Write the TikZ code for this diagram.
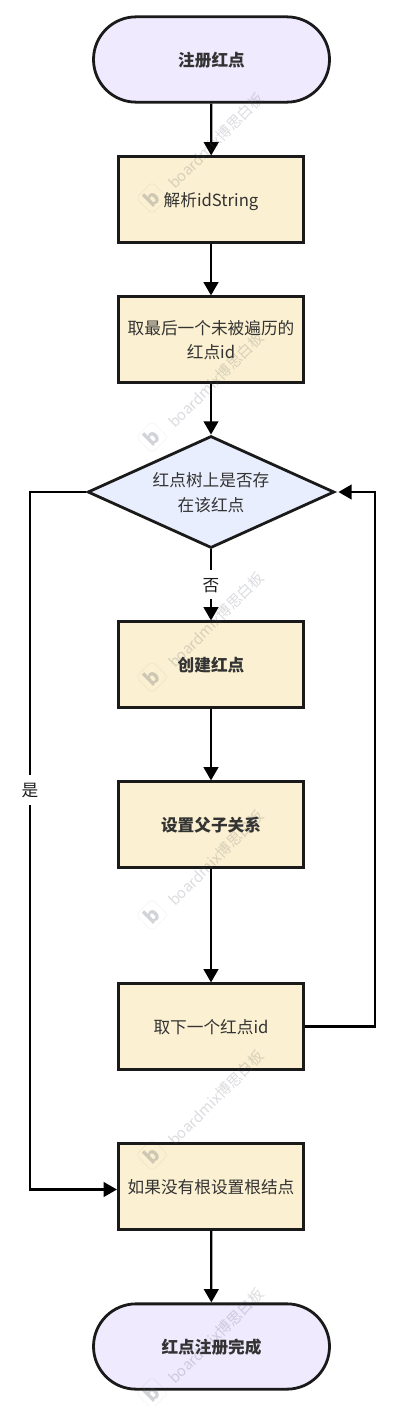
\documentclass[tikz,border=0pt]{standalone}
\usepackage{fontspec}
\setmainfont{Noto Sans CJK SC}
\usetikzlibrary{calc,shapes.geometric,arrows.meta}

\definecolor{inkdark}{HTML}{1A1A1A}
\definecolor{textdark}{HTML}{333333}
\definecolor{termfill}{HTML}{EFEAFD}
\definecolor{procfill}{HTML}{FBF0D1}
\definecolor{testfill}{HTML}{E8EEFD}
\definecolor{wmgrey}{HTML}{4A5060}

\tikzset{
    boxfont/.style={font=\fontsize{12.5pt}{18.5pt}\selectfont,text=textdark,align=center,text depth=0pt},
    terminal/.style={boxfont,draw=inkdark,line width=2.1pt,fill=termfill,rounded corners=32pt,
        minimum width=177pt,minimum height=64pt,inner sep=0pt},
    process/.style={boxfont,draw=inkdark,line width=2.1pt,fill=procfill,
        minimum width=139pt,minimum height=64pt,inner sep=0pt},
    decision/.style={boxfont,draw=inkdark,line width=2.1pt,fill=testfill,diamond,aspect=2.2,
        minimum width=185pt,minimum height=84pt,inner sep=0pt},
    flowline/.style={draw=black,line width=1.7pt,-{Triangle[width=11pt,length=10pt]}},
    edgelabel/.style={boxfont,fill=white,inner sep=6pt,text=inkdark},
    wmtext/.style={rotate=45,text=wmgrey,text opacity=0.2,font=\fontsize{11.2pt}{14pt}\selectfont,inner sep=0pt},
    wmlogo/.style={rotate=45,draw=wmgrey,draw opacity=0.08,rounded corners=3pt,minimum size=17pt,inner sep=0pt,
        text=wmgrey,text opacity=0.25,font=\fontsize{15pt}{14pt}\selectfont\bfseries}
}
% one faint mark: badge, then its text up and to the right
\newcommand{\wmark}[2]{
    \node[wmlogo] (#1) at (152,#2) {b};
    \node[wmtext] (#1t) at ($(#1)+(64,-57)$) {boardmix博思白板};
}

\begin{document}
\begin{tikzpicture}[x=0.75pt,y=-0.75pt]

    \useasboundingbox (0,0) rectangle (402,1406);

    %%% Boxes %%%

    \node[terminal] (start) at (211.5,59.5) {\bfseries 注册红点};
    \node[process] (parse) at (211,199.5) {解析idString};
    \node[process] (last) at (211,339.5) {取最后一个未被遍历的\\红点id};
    \node[decision] (exists) at (211,492) {红点树上是否存\\在该红点};
    \node[process] (create) at (211,664.5) {\bfseries 创建红点};
    \node[process] (parent) at (211,824.5) {\bfseries 设置父子关系};
    \node[process] (next) at (211,1026.5) {取下一个红点id};
    \node[process] (root) at (211,1186.5) {如果没有根设置根结点};
    \node[terminal] (finish) at (211.5,1346.5) {\bfseries 红点注册完成};

    %%% Connectors %%%

    \draw[flowline] (start) -- (parse);
    \draw[flowline] (parse) -- (last);
    \draw[flowline] (last) -- (exists);
    \draw[flowline] (exists) -- node[edgelabel] (nolabel) {否} (create);
    \draw[flowline] (create) -- (parent);
    \draw[flowline] (parent) -- (next);
    \draw[flowline] (root) -- (finish);

    \coordinate (rightturn) at (375,1026.5);
    \coordinate (leftturn) at (30,492);
    \coordinate (rootin) at ($(root.west)+(0,3)$);
    \draw[flowline,shorten >=2pt] (next.east) -- (rightturn) |- (exists.east);
    \draw[flowline] (exists.west) -- (leftturn) |- (rootin);
    \node[edgelabel] (yeslabel) at (30,790) {是};

    %%% Watermark %%%

    \wmark{wa}{198}
    \wmark{wb}{437}
    \wmark{wc}{677}
    \wmark{wd}{915}
    \wmark{we}{1155}
    \wmark{wf}{1393}

\end{tikzpicture}
\end{document}
